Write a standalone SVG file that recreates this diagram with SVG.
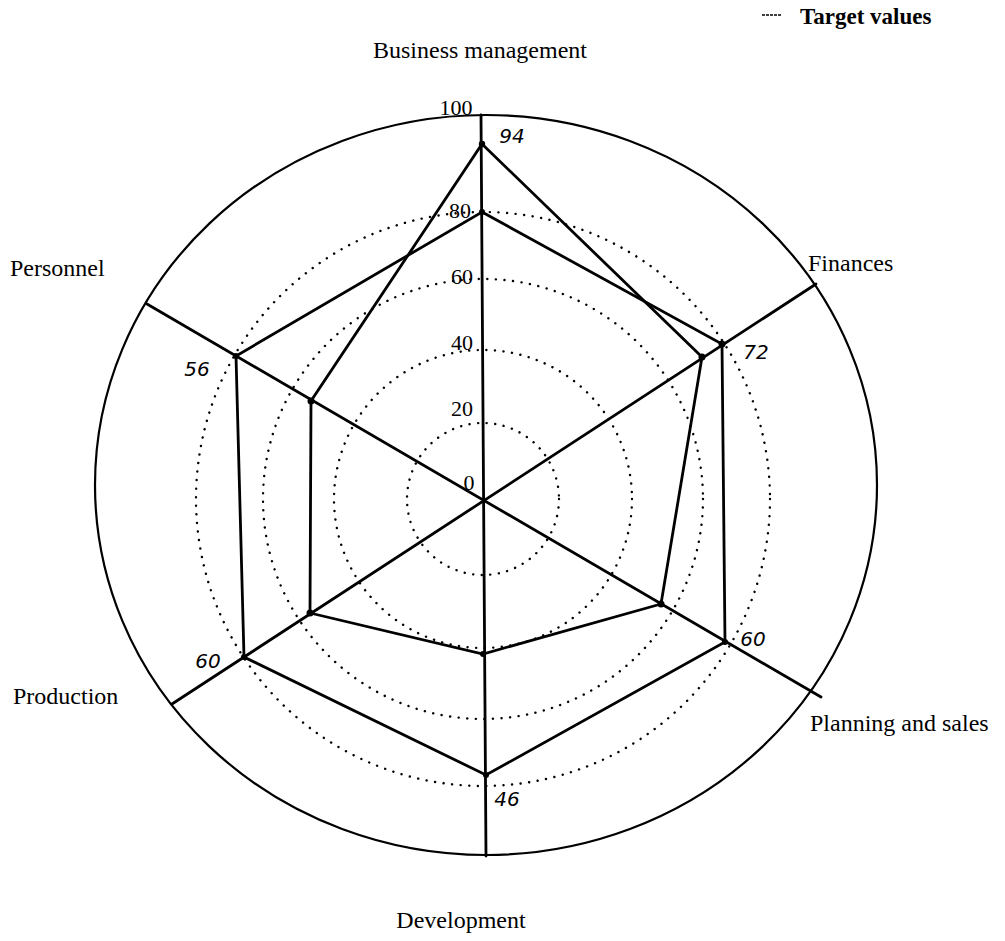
<svg xmlns="http://www.w3.org/2000/svg" width="1005" height="941" viewBox="0 0 1005 941">
<style>
.bg{fill:#ffffff}
.frame{fill:none;stroke:#000;stroke-width:2.2}
.grid{fill:none;stroke:#000;stroke-width:2.4;stroke-dasharray:0.1 8.5;stroke-linecap:round}
.axis{fill:none;stroke:#000;stroke-width:2.8;stroke-linecap:round}
.poly{fill:none;stroke:#000;stroke-width:2.8;stroke-linejoin:miter}
.pt{fill:#000}
.lab{font-family:"Liberation Serif","Times New Roman",serif;font-size:24px;fill:#000}
.leg{font-family:"Liberation Serif","Times New Roman",serif;font-size:23px;font-weight:bold;fill:#000}
.scale{font-family:"Liberation Serif","Times New Roman",serif;font-size:22px;fill:#000;text-anchor:middle}
.hand{font-family:"DejaVu Sans","Liberation Sans",sans-serif;font-size:20px;font-style:italic;font-weight:300;fill:#000;text-anchor:middle}
</style>
<rect class="bg" x="0" y="0" width="1005" height="941"/>
<g id="legend">
<line x1="762" y1="15" x2="782" y2="15" stroke="#000" stroke-width="1.4" stroke-dasharray="3 1"/>
<text class="leg" x="800" y="24">Target values</text>
</g>
<g id="grid">
<ellipse class="frame" cx="486" cy="485" rx="391" ry="370"/>
<circle class="grid" cx="483" cy="499" r="76"/>
<circle class="grid" cx="483" cy="499" r="149"/>
<circle class="grid" cx="483" cy="499" r="220"/>
<circle class="grid" cx="483" cy="499" r="287"/>
</g>
<g id="axes">
<line class="axis" x1="481" y1="115" x2="486" y2="856"/>
<line class="axis" x1="816" y1="284" x2="172" y2="704"/>
<line class="axis" x1="147" y1="304" x2="821" y2="697"/>
</g>
<g id="scale-labels">
<text class="scale" x="456" y="115">100</text>
<text class="scale" x="460" y="218">80</text>
<text class="scale" x="462" y="284">60</text>
<text class="scale" x="462" y="350">40</text>
<text class="scale" x="462" y="416">20</text>
<text class="scale" x="469" y="490">0</text>
</g>
<g id="target-polygon">
<polygon class="poly" points="482,212 722,344 725,642 486,775 244,657 236,356"/>
</g>
<g id="actual-polygon">
<polygon class="poly" points="482,144 702,357 661,604 483,654 310,613 311,401"/>
</g>
<g id="points">
<circle class="pt" cx="482" cy="144" r="3.2"/>
<circle class="pt" cx="482" cy="212" r="3"/>
<circle class="pt" cx="702" cy="357" r="3.5"/>
<circle class="pt" cx="722" cy="344" r="3.5"/>
<circle class="pt" cx="661" cy="604" r="3.5"/>
<circle class="pt" cx="725" cy="642" r="3"/>
<circle class="pt" cx="483" cy="654" r="3"/>
<circle class="pt" cx="486" cy="775" r="3"/>
<circle class="pt" cx="310" cy="613" r="3.5"/>
<circle class="pt" cx="244" cy="657" r="3"/>
<circle class="pt" cx="311" cy="401" r="3.5"/>
<circle class="pt" cx="236" cy="356" r="3"/>
</g>
<g id="value-labels">
<text class="hand" x="512" y="143">94</text>
<text class="hand" x="756" y="359">72</text>
<text class="hand" x="753" y="646">60</text>
<text class="hand" x="507" y="806">46</text>
<text class="hand" x="208" y="668">60</text>
<text class="hand" x="197" y="376">56</text>
</g>
<g id="category-labels">
<text class="lab" x="480" y="58" text-anchor="middle">Business management</text>
<text class="lab" x="808" y="271">Finances</text>
<text class="lab" x="10" y="276">Personnel</text>
<text class="lab" x="13" y="704">Production</text>
<text class="lab" x="810" y="731">Planning and sales</text>
<text class="lab" x="461" y="928" text-anchor="middle">Development</text>
</g>
</svg>
